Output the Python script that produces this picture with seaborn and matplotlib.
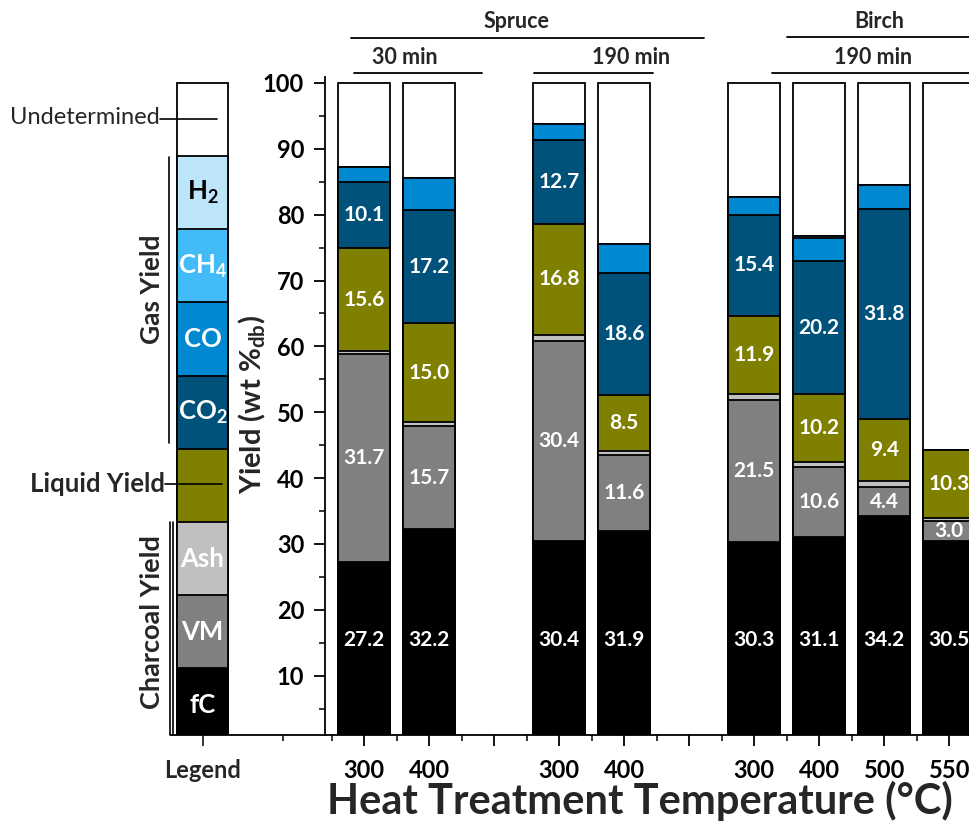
import numpy as np
import pandas as pd
import matplotlib
matplotlib.use("Agg")
import matplotlib.pyplot as plt
import matplotlib.transforms as mtransforms
from matplotlib.lines import Line2D
from matplotlib.ticker import FixedLocator, FixedFormatter, MultipleLocator
import seaborn as sns

# ---- data (wt %, dry basis) ----
temps = ["300", "400", "300", "400", "300", "400", "500", "550"]
group_sizes = [2, 2, 4]          # Spruce 30 min, Spruce 190 min, Birch 190 min
fC = [27.2, 32.2, 30.4, 31.9, 30.3, 31.1, 34.2, 30.5]
VM = [31.7, 15.7, 30.4, 11.6, 21.5, 10.6, 4.4, 3.0]
ash = [0.4, 0.6, 1.0, 0.6, 0.9, 0.8, 1.0, 0.5]
liquid = [15.6, 15.0, 16.8, 8.5, 11.9, 10.2, 9.4, 10.3]
co2 = [10.1, 17.2, 12.7, 18.6, 15.4, 20.2, 31.8, 0.0]
co = [2.3, 4.8, 2.4, 4.4, 2.7, 3.6, 3.7, 0.0]
ch4 = [0.0, 0.0, 0.0, 0.0, 0.0, 0.3, 0.0, 0.0]
h2 = [0.0, 0.0, 0.0, 0.0, 0.0, 0.0, 0.0, 0.0]

component_names = ["fC", "VM", "Ash", "Liquid", "CO2", "CO", "CH4", "H2", "Undetermined"]
component_colors = ["#000000", "#808080", "#C0C0C0", "#808000", "#00527A",
                    "#0088D1", "#42BBF7", "#BDE5F9", "#FFFFFF"]
legend_labels = [r"fC", r"VM", r"Ash", None, r"CO$_{\mathbf{2}}$", r"CO",
                 r"CH$_{\mathbf{4}}$", r"H$_{\mathbf{2}}$", None]
legend_label_colors = ["white", "white", "white", None, "white", "white",
                       "white", "black", None]

# ---- style ----
sns.set_theme(style="ticks")
plt.rcParams["font.family"] = ["Lato", "DejaVu Sans"]
plt.rcParams["mathtext.fontset"] = "custom"
plt.rcParams["mathtext.rm"] = "Lato"
plt.rcParams["mathtext.bf"] = "Lato:bold"
plt.rcParams["axes.linewidth"] = 1.3

W, H = 970, 824
fig = plt.figure(figsize=(W / 100, H / 100), dpi=100)
fig.patch.set_facecolor("white")


def fx(x):
    return x / W


def fy(y):
    return 1 - y / H


# ---- slot positions: one empty slot between groups ----
positions = []
slot = 0
for g, n in enumerate(group_sizes):
    for i in range(n):
        positions.append(slot)
        slot += 1
    slot += 1
positions = np.array(positions, dtype=float)

layers = [fC, VM, ash, liquid, co2, co, ch4, h2]
stack = np.array(layers)
cum = np.cumsum(stack, axis=0)
cum = np.vstack([cum, np.full(len(temps), 100.0)])

YMIN, YMAX = 1.0, 100.9

# ---- main axes ----
ax = fig.add_axes([fx(325), fy(735), (970 - 325) / W, (735 - 77) / H])
ax.set_facecolor("white")
for k in range(len(component_names) - 1, -1, -1):
    df = pd.DataFrame({"pos": positions, "top": cum[k]})
    sns.barplot(data=df, x="pos", y="top", native_scale=True, color=component_colors[k],
                saturation=1, edgecolor="black", linewidth=1.3, errorbar=None,
                width=0.8, ax=ax, zorder=2)

ax.set_xlim(-0.6, 9.32)
ax.set_ylim(YMIN, YMAX)

all_slots = np.arange(0, slot - 1)
slot_labels = []
for s in all_slots:
    if s in positions:
        slot_labels.append(temps[list(positions).index(s)])
    else:
        slot_labels.append("")
ax.xaxis.set_major_locator(FixedLocator(all_slots))
ax.xaxis.set_major_formatter(FixedFormatter(slot_labels))
ax.xaxis.set_minor_locator(FixedLocator(np.arange(-0.5, slot - 1, 1.0)))
ax.yaxis.set_major_locator(FixedLocator(np.arange(10, 101, 10)))
ax.yaxis.set_minor_locator(MultipleLocator(5))
ax.tick_params(axis="both", which="major", direction="out", length=8, width=1.3,
               labelsize=17, pad=7, colors="black")
ax.tick_params(axis="both", which="minor", direction="out", length=4, width=1.3)
ax.tick_params(axis="x", which="major", pad=9)
for lab in ax.get_xticklabels() + ax.get_yticklabels():
    lab.set_fontweight("bold")
ax.set_xlabel("")
ax.set_ylabel("")
for side in ["top", "right"]:
    ax.spines[side].set_visible(False)
ax.spines["left"].set_color("black")
ax.spines["bottom"].set_color("black")

# value labels
label_kw = dict(ha="center", va="center", color="white", fontsize=15,
                fontweight="bold", zorder=5)
FC_LABEL_Y = 15.4
for i, p in enumerate(positions):
    ax.text(p, FC_LABEL_Y, f"{fC[i]:.1f}", **label_kw)
    for k, vals in [(1, VM), (3, liquid), (4, co2)]:
        v = vals[i]
        if v <= 0:
            continue
        mid = cum[k][i] - v / 2
        ax.text(p, mid, f"{v:.1f}", **label_kw)

# ---- legend column axes ----
lax = fig.add_axes([fx(171), fy(735), (325 - 171) / W, (735 - 77) / H])
lax.set_facecolor("none")
seg = 100 / 9
for k in range(len(component_names) - 1, -1, -1):
    dfl = pd.DataFrame({"name": ["Legend"], "top": [seg * (k + 1)]})
    sns.barplot(data=dfl, x="name", y="top", color=component_colors[k], saturation=1,
                edgecolor="black", linewidth=1.3, errorbar=None, width=0.8, ax=lax)
unit = 51 / 0.8
lax.set_xlim(-(202.5 - 171) / unit, (325 - 202.5) / unit)
lax.set_ylim(YMIN, YMAX)
lax.xaxis.set_major_locator(FixedLocator([0]))
lax.xaxis.set_major_formatter(FixedFormatter(["Legend"]))
lax.xaxis.set_minor_locator(FixedLocator([(283 - 202.5) / unit]))
lax.tick_params(axis="x", which="major", direction="out", length=8, width=1.3,
                labelsize=17, pad=9)
lax.tick_params(axis="x", which="minor", direction="out", length=4, width=1.3)
lax.set_yticks([])
for lab in lax.get_xticklabels():
    lab.set_fontweight("bold")
lax.set_xlabel("")
lax.set_ylabel("")
for side in ["top", "right", "left"]:
    lax.spines[side].set_visible(False)
lax.spines["bottom"].set_color("black")

for k, txt in enumerate(legend_labels):
    if txt is None:
        continue
    lax.text(0, seg * k + seg / 2, txt, ha="center", va="center",
             color=legend_label_colors[k], fontsize=18.5, fontweight="bold", zorder=5)

# legend call-outs and brackets
def fig_line(x1, y1, x2, y2, lw=1.2):
    fig.add_artist(Line2D([fx(x1), fx(x2)], [fy(y1), fy(y2)], color="black", lw=lw,
                          transform=fig.transFigure))


fig.text(fx(160), fy(118), "Undetermined", ha="right", va="center", fontsize=17)
fig_line(160, 119, 217, 119)
fig.text(fx(165), fy(484), "Liquid Yield", ha="right", va="center", fontsize=18.5,
         fontweight="bold")
fig_line(165, 484, 222, 484)
fig.text(fx(152), fy(289), "Gas Yield", ha="center", va="center", rotation=90,
         fontsize=19, fontweight="bold")
fig_line(169, 157, 169, 443)
fig.text(fx(152), fy(622), "Charcoal Yield", ha="center", va="center", rotation=90,
         fontsize=19.5, fontweight="bold")
fig_line(170, 522, 170, 735)
fig_line(173.5, 522, 173.5, 735)

# y-axis title
fig.text(fx(252), fy(404), r"Yield (wt %$_{\mathbf{db}}$)", ha="center", va="center",
         rotation=90, fontsize=21, fontweight="bold")

# x-axis title
fig.text(fx(640), fy(814), "Heat Treatment Temperature (°C)", ha="center",
         va="baseline", fontsize=30, fontweight="bold")

# ---- group headers (x in slot units, y in figure pixels) ----
blend = mtransforms.blended_transform_factory(ax.transData, fig.transFigure)
headers = [
    ("Spruce", 2.35, 22, -0.2, 5.23, 38),
    ("30 min", 0.63, 57, -0.15, 1.82, 72.5),
    ("190 min", 4.1, 57, 2.62, 4.45, 72.5),
    ("Birch", 7.92, 22, 6.5, 9.6, 37),
    ("190 min", 7.83, 57, 6.28, 9.6, 72.5),
]
for text, tx, ty, x1, x2, ly in headers:
    fig.text(0, 0, text, transform=blend, ha="center", va="center", fontsize=15.5,
             fontweight="bold").set_position((tx, fy(ty)))
    fig.add_artist(Line2D([x1, x2], [fy(ly), fy(ly)], color="black", lw=1.3,
                          transform=blend))

fig.savefig("out.png", dpi=100, facecolor="white")
